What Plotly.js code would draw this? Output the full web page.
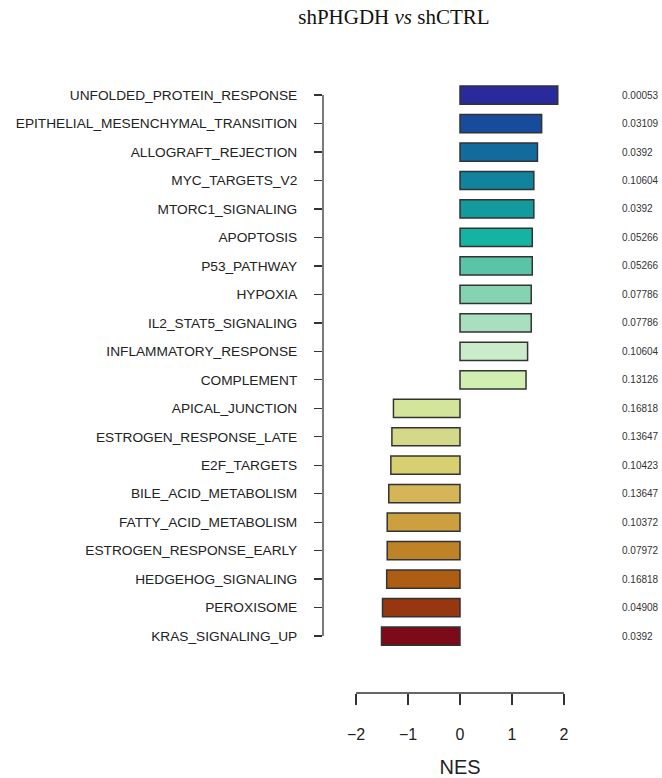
<!DOCTYPE html>
<html>
<head>
<meta charset="utf-8">
<script src="https://cdn.plot.ly/plotly-3.0.1.min.js"></script>
<style>html,body{margin:0;padding:0;background:#fff;}#chart{width:662px;height:778px;}</style>
</head>
<body>
<div id="chart"></div>
<script>
const pathways = ["UNFOLDED_PROTEIN_RESPONSE","EPITHELIAL_MESENCHYMAL_TRANSITION","ALLOGRAFT_REJECTION","MYC_TARGETS_V2","MTORC1_SIGNALING","APOPTOSIS","P53_PATHWAY","HYPOXIA","IL2_STAT5_SIGNALING","INFLAMMATORY_RESPONSE","COMPLEMENT","APICAL_JUNCTION","ESTROGEN_RESPONSE_LATE","E2F_TARGETS","BILE_ACID_METABOLISM","FATTY_ACID_METABOLISM","ESTROGEN_RESPONSE_EARLY","HEDGEHOG_SIGNALING","PEROXISOME","KRAS_SIGNALING_UP"];
const nes = [1.88,1.57,1.49,1.42,1.42,1.39,1.39,1.37,1.37,1.30,1.27,-1.28,-1.31,-1.33,-1.37,-1.40,-1.40,-1.41,-1.49,-1.51];
const pvals = ["0.00053","0.03109","0.0392","0.10604","0.0392","0.05266","0.05266","0.07786","0.07786","0.10604","0.13126","0.16818","0.13647","0.10423","0.13647","0.10372","0.07972","0.16818","0.04908","0.0392"];
const barColors = ["#2A2A9C","#174C9C","#136A9C","#12839C","#139A9F","#16B2A2","#5BC3A8","#86D3B2","#A8DFBD","#CAECCB","#D0EFB0","#D3E59A","#D4D889","#D8CF70","#D4B558","#CCA03E","#BE8326","#AE5E13","#963710","#7C0A18"];
const xTicks = [-2,-1,0,1,2];
const xTickText = ["\u22122","\u22121","0","1","2"];

const trace = {
  type: "bar",
  orientation: "h",
  x: nes,
  y: pathways,
  width: 0.64,
  marker: {color: barColors, line: {color: "#333333", width: 1.5}},
  hoverinfo: "x+y"
};

const annotations = pathways.map((p, i) => ({
  xref: "paper", yref: "y", x: 1.085, y: p, text: pvals[i],
  showarrow: false, xanchor: "left", yanchor: "middle",
  font: {family: "Liberation Sans, Arial, sans-serif", size: 10, color: "#333"}
}));

const layout = {
  width: 662, height: 778,
  margin: {l: 323, r: 65, t: 78, b: 85},
  paper_bgcolor: "#fff", plot_bgcolor: "#fff",
  showlegend: false,
  title: {
    text: "shPHGDH <i>vs</i> shCTRL",
    font: {family: "Liberation Serif, Times New Roman, serif", size: 21, color: "#111"},
    xref: "container", yref: "container", x: 0.595, y: 0.979, xanchor: "center", yanchor: "middle"
  },
  xaxis: {
    range: [-2.635, 2.635],
    tickvals: xTicks, ticktext: xTickText,
    ticks: "outside", ticklen: 11, tickwidth: 1.3, tickcolor: "#333",
    showline: false, zeroline: false, showgrid: false,
    ticklabelstandoff: 16,
    tickfont: {family: "Liberation Sans, Arial, sans-serif", size: 16, color: "#222"},
    title: {text: "NES", standoff: 17, font: {family: "Liberation Sans, Arial, sans-serif", size: 20, color: "#222"}}
  },
  yaxis: {
    type: "category",
    categoryorder: "array", categoryarray: pathways,
    range: [21.0, -0.6],
    ticks: "outside", ticklen: 8, tickwidth: 1.3, tickcolor: "#333",
    showline: false, zeroline: false, showgrid: false,
    ticklabelstandoff: 14,
    tickfont: {family: "Liberation Sans, Arial, sans-serif", size: 13.7, color: "#222"}
  },
  shapes: [
    {type: "line", xref: "x", yref: "paper", x0: xTicks[0], x1: xTicks[xTicks.length-1], y0: 0, y1: 0, line: {color: "#333", width: 1.3}},
    {type: "line", xref: "paper", yref: "y", x0: 0, x1: 0, y0: 0, y1: pathways.length - 1, line: {color: "#333", width: 1.3}}
  ],
  annotations: annotations
};

Plotly.newPlot("chart", [trace], layout, {displayModeBar: false, staticPlot: true});
</script>
</body>
</html>
